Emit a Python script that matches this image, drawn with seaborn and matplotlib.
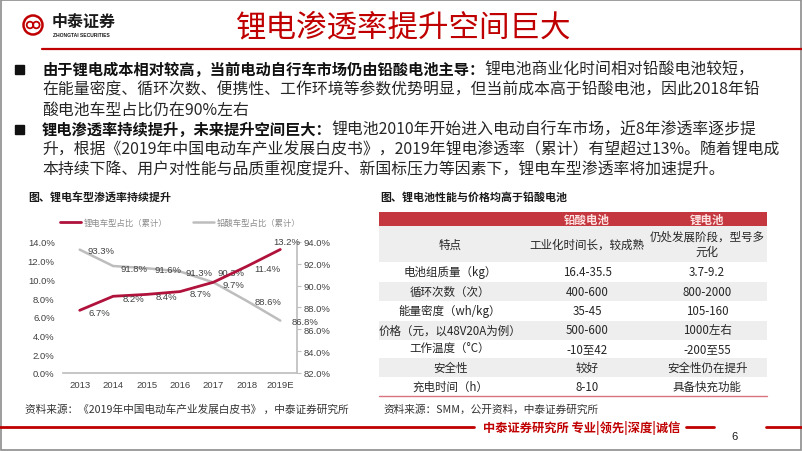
import numpy as np
import pandas as pd
import matplotlib
matplotlib.use('Agg')
import matplotlib.pyplot as plt
import seaborn as sns
from matplotlib.patches import Rectangle, Circle
from matplotlib.lines import Line2D

# ---------------- data ----------------
years = ['2013', '2014', '2015', '2016', '2017', '2018', '2019E']
li_share = [6.7, 8.2, 8.4, 8.7, 9.7, 11.4, 13.2]
pb_share = [93.3, 91.8, 91.6, 91.3, 90.3, 88.6, 86.8]
left_ticks = [0, 2, 4, 6, 8, 10, 12, 14]
right_ticks = [82, 84, 86, 88, 90, 92, 94]
legend_labels = ['锂电车型占比（累计）', '铅酸车型占比（累计）']

table_header = ['', '铅酸电池', '锂电池']
table_features = ['特点', '电池组质量（kg）', '循环次数（次）', '能量密度（wh/kg）',
                  '价格（元，以48V20A为例）', '工作温度（°C）', '安全性', '充电时间（h）']
table_lead = ['工业化时间长，较成熟', '16.4-35.5', '400-600', '35-45',
              '500-600', '-10至42', '较好', '8-10']
table_li = ['仍处发展阶段，型号多\n元化', '3.7-9.2', '800-2000', '105-160',
            '1000左右', '-200至55', '安全性仍在提升', '具备快充功能']

title = '锂电渗透率提升空间巨大'
body_lines = [
    [('由于锂电成本相对较高，当前电动自行车市场仍由铅酸电池主导：', True), ('锂电池商业化时间相对铅酸电池较短，', False)],
    [('在能量密度、循环次数、便携性、工作环境等参数优势明显，但当前成本高于铅酸电池，因此2018年铅', False)],
    [('酸电池车型占比仍在90%左右', False)],
    [('锂电渗透率持续提升，未来提升空间巨大：', True), ('锂电池2010年开始进入电动自行车市场，近8年渗透率逐步提', False)],
    [('升，根据《2019年中国电动车产业发展白皮书》，2019年锂电渗透率（累计）有望超过13%。随着锂电成', False)],
    [('本持续下降、用户对性能与品质重视度提升、新国标压力等因素下，锂电车型渗透率将加速提升。', False)],
]
bullet_rows = [0, 3]
source_left = '资料来源：《2019年中国电动车产业发展白皮书》 ，中泰证券研究所'
source_right = '资料来源：SMM，公开资料，中泰证券研究所'

# ---------------- style ----------------
sns.set_theme(style='white')
CJK = ['Noto Sans CJK SC', 'DejaVu Sans']
LAT = ['Liberation Sans', 'DejaVu Sans']
plt.rcParams['font.family'] = CJK
plt.rcParams['axes.unicode_minus'] = False

RED = '#b0123b'
TRED = '#c00000'
GRAY = '#bdbdbd'
AXC = '#bfbfbf'
TXT = '#404040'

W, H = 802, 452
fig = plt.figure(figsize=(W / 100, H / 100), dpi=100)
fig.patch.set_facecolor('white')

ov = fig.add_axes([0, 0, 1, 1], zorder=5)
ov.set_xlim(0, W)
ov.set_ylim(H, 0)
ov.axis('off')
renderer = fig.canvas.get_renderer()

# border
ov.add_patch(Rectangle((0.5, 0.5), W - 1.5, H - 1.5, fill=False, ec='#8c8c8c', lw=1.2))

# logo
ov.add_patch(Circle((33, 26), 9.5, fill=False, ec=TRED, lw=1.8))
ov.add_patch(Circle((30, 26), 3.3, fill=False, ec=TRED, lw=1.3))
ov.add_patch(Circle((36.3, 26), 3.3, fill=False, ec=TRED, lw=1.3))
ov.text(52, 22, '中泰证券', fontsize=11.5, fontweight='bold', color='#1a1a1a',
        va='center', ha='left')
ov.text(53, 35.5, 'ZHONGTAI SECURITIES', fontsize=3.6, fontweight='bold', color='#1a1a1a',
        va='center', ha='left', family=LAT)

# title + header line
ov.text(404, 28, title, fontsize=22, color=TRED, va='center', ha='center')
ov.plot([42, W], [50, 50], color=TRED, lw=1.6)

# body text
def run(x, y, parts):
    for s, kw in parts:
        t = ov.text(x, y, s, va='center', ha='left', **kw)
        bb = t.get_window_extent(renderer=renderer)
        x += bb.width
    return x

for i, line in enumerate(body_lines):
    y = 70 + 20 * i
    if i in bullet_rows:
        ov.add_patch(Rectangle((15, y - 4.5), 9, 9, color='#111111'))
    parts = []
    for s, bold in line:
        if bold:
            parts.append((s, dict(fontsize=11.0, fontweight='bold', color='#111111')))
        else:
            parts.append((s, dict(fontsize=11.4, color='#262626')))
    run(42, y, parts)

# ---------------- chart ----------------
ov.text(28, 197, '图、锂电车型渗透率持续提升', fontsize=7.9, fontweight='bold',
        color='#1a1a1a', va='center', ha='left')

ax = fig.add_axes([63 / W, 1 - 374 / H, (297 - 63) / W, (374 - 243) / H], zorder=2)
x = np.arange(len(years))
df = pd.DataFrame({'x': x, 'li': li_share, 'pb': pb_share})
sns.lineplot(data=df, x='x', y='li', ax=ax, color=RED, lw=2.0, legend=False, zorder=3)
ax2 = ax.twinx()
sns.lineplot(data=df, x='x', y='pb', ax=ax2, color=GRAY, lw=1.8, legend=False, zorder=2)
ax.set_zorder(3)
ax.patch.set_visible(False)
ax2.set_zorder(2)

ax.set_xlim(-0.5, len(years) - 0.5)
ax.set_ylim(0, 14)
ax2.set_ylim(82, 94)
ax.set_xticks(x)
ax.set_xticklabels(years, family=LAT, fontsize=6.8, color=TXT)
ax.set_xticks(np.arange(-0.5, len(years), 1.0), minor=True)
ax.set_yticks(left_ticks)
ax.set_yticklabels([f'{v:.1f}%' for v in left_ticks], family=LAT, fontsize=6.8, color=TXT)
ax2.set_yticks(right_ticks)
ax2.set_yticklabels([f'{v:.1f}%' for v in right_ticks], family=LAT, fontsize=6.8, color=TXT)
ax.set_xlabel('')
ax.set_ylabel('')
ax2.set_ylabel('')
for s in ['left', 'top', 'right']:
    ax.spines[s].set_visible(False)
for s in ['left', 'top', 'bottom']:
    ax2.spines[s].set_visible(False)
ax.spines['bottom'].set_color(AXC)
ax2.spines['right'].set_color(AXC)
ax.tick_params(axis='x', which='major', length=0, pad=5)
ax.tick_params(axis='x', which='minor', length=3.5, color=AXC, width=0.8, direction='out')
ax.tick_params(axis='y', length=0, pad=6)
ax2.tick_params(axis='y', length=3, color=AXC, width=0.8, pad=2)
ax.grid(False)
ax2.grid(False)

li_off = [(20, -2)] * 6 + [(6, 8)]
pb_off = [(21, -1), (21, -2), (21, -1), (19, -1), (18, 10), (21, -1), (25, -1)]
for i in range(len(years)):
    ax.annotate(f'{li_share[i]:.1f}%', (x[i], li_share[i]), xytext=li_off[i],
                textcoords='offset pixels', ha='center', va='center',
                fontsize=6.8, family=LAT, color=TXT, zorder=6, annotation_clip=False)
    ax2.annotate(f'{pb_share[i]:.1f}%', (x[i], pb_share[i]), xytext=pb_off[i],
                 textcoords='offset pixels', ha='center', va='center',
                 fontsize=6.8, family=LAT, color=TXT, zorder=6, annotation_clip=False)

handles = [Line2D([], [], color=RED, lw=2.0), Line2D([], [], color=GRAY, lw=1.8)]
fig.legend(handles, legend_labels, loc='center', bbox_to_anchor=(180 / W, 1 - 223 / H),
           ncol=2, frameon=False, fontsize=6.0, handlelength=2.6, handletextpad=0.3,
           columnspacing=3.0, labelcolor='#8c8c8c')

# ---------------- table ----------------
ov.text(380, 197, '图、锂电池性能与价格均高于铅酸电池', fontsize=7.9, fontweight='bold',
        color='#1a1a1a', va='center', ha='left')
TX0, TX1 = 379, 767
col_c = [450, 587, 707]
ov.add_patch(Rectangle((TX0, 213), TX1 - TX0, 14, color='#c4373e', lw=0))
for j in (1, 2):
    ov.text(col_c[j], 220, table_header[j], fontsize=8.3, fontweight='bold', color='#fde2e2',
            ha='center', va='center')
row_bounds = [227, 263, 282.5, 302, 321.5, 340.5, 359, 378, 396.5]
for r in range(len(table_features)):
    y0, y1 = row_bounds[r], row_bounds[r + 1]
    if r % 2 == 0:
        ov.add_patch(Rectangle((TX0, y0), TX1 - TX0, y1 - y0, color='#eeeeee', lw=0))
    yc = (y0 + y1) / 2
    for j, val in enumerate([table_features[r], table_lead[r], table_li[r]]):
        ov.text(col_c[j], yc, val, fontsize=8.3, color='#262626', ha='center', va='center',
                linespacing=1.25)
ov.plot([TX0, TX1], [397, 397], color='#d9737f', lw=1.0)

# ---------------- footer ----------------
ov.text(25, 410, source_left, fontsize=7.7, color='#333333', va='center', ha='left')
ov.text(383, 410, source_right, fontsize=7.7, color='#333333', va='center', ha='left')
ov.plot([0, 474], [428, 428], color=TRED, lw=2)
ft = ov.text(483, 428, '中泰证券研究所 专业|领先|深度|诚信', fontsize=8.8, fontweight='bold',
             color=TRED, va='center', ha='left')
fx = 483 + ft.get_window_extent(renderer=renderer).width
ov.plot([fx + 6, fx + 34], [428, 428], color=TRED, lw=2)
ov.text(735, 437, '6', fontsize=8, color='#1a1a1a', va='center', ha='center', family=LAT)
ov.plot([766, W], [428, 428], color=TRED, lw=2)

fig.savefig('out.png', dpi=100, facecolor='white')
